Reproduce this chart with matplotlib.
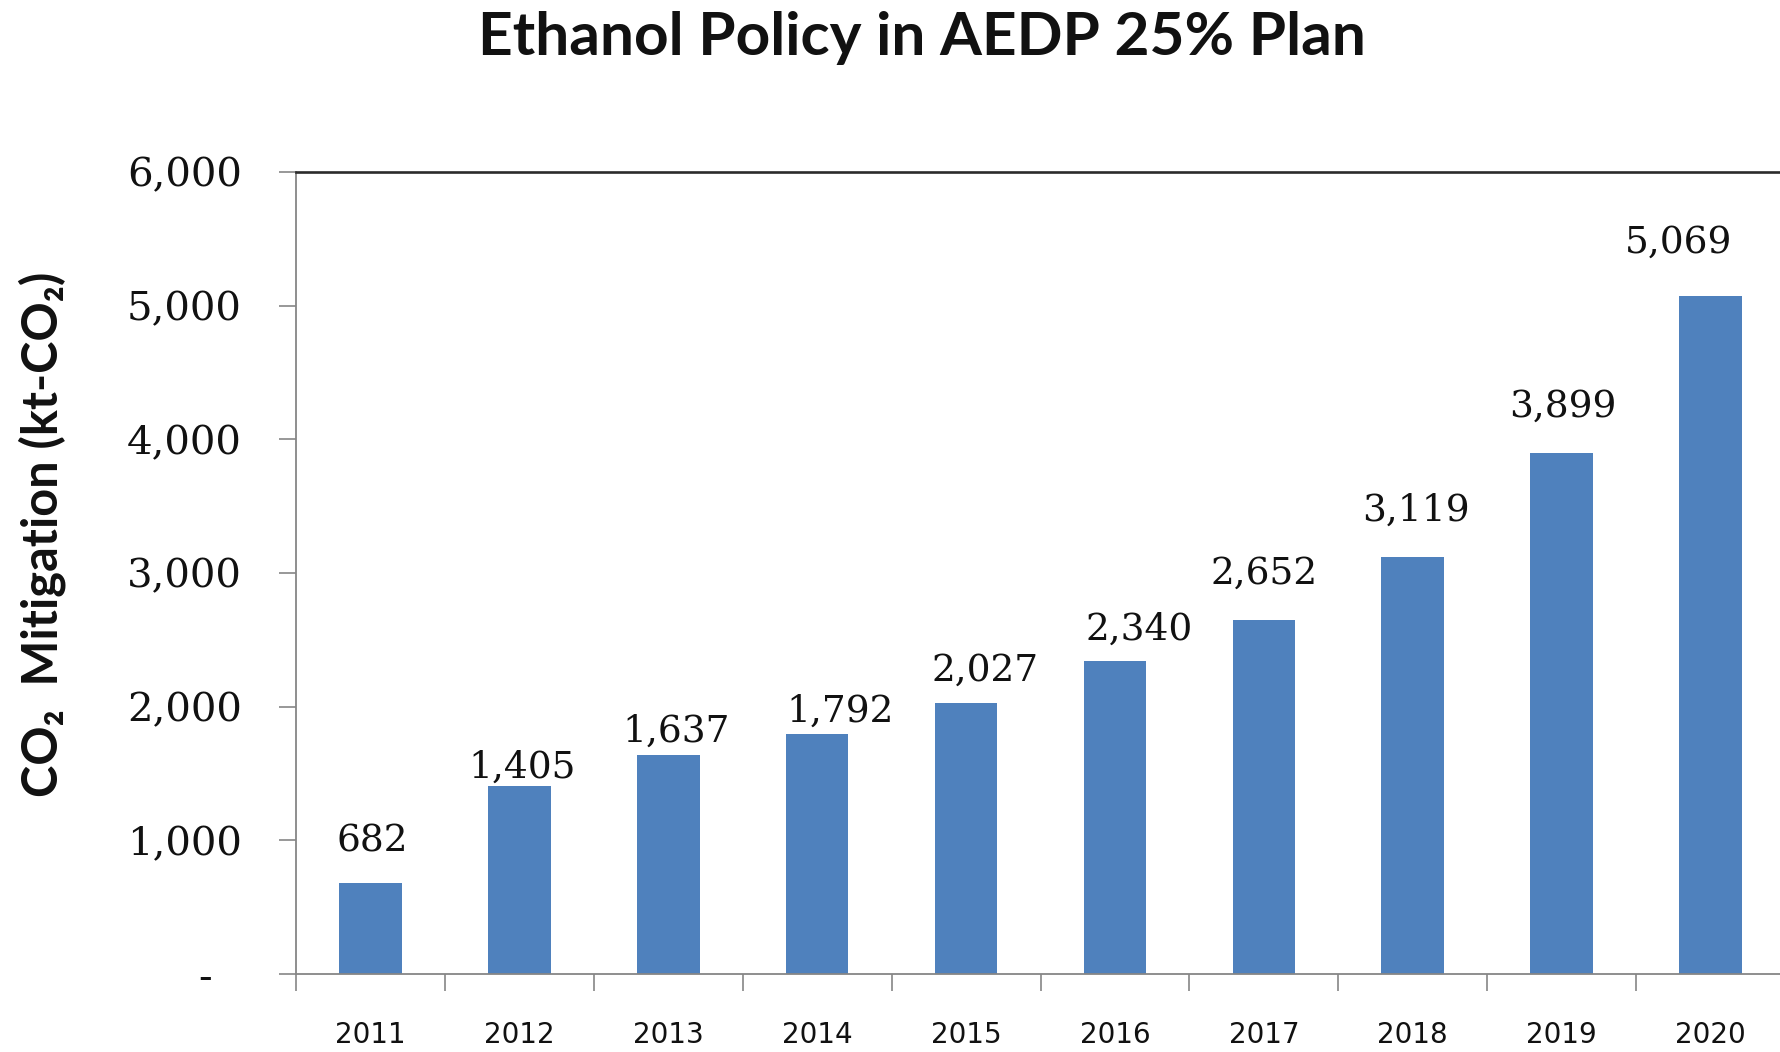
import matplotlib
matplotlib.use("Agg")
import matplotlib.pyplot as plt
from matplotlib.ticker import FixedLocator, FixedFormatter
from matplotlib.transforms import ScaledTranslation

# Data
years = ["2011", "2012", "2013", "2014", "2015", "2016", "2017", "2018", "2019", "2020"]
mitigation = [682, 1405, 1637, 1792, 2027, 2340, 2652, 3119, 3899, 5069]
y_ticks = [0, 1000, 2000, 3000, 4000, 5000, 6000]
y_tick_labels = ["-", "1,000", "2,000", "3,000", "4,000", "5,000", "6,000"]

# Hand-placed value-label offsets (pixels) relative to each bar top
label_dx_px = [2, 3, 8, 23, 19, 24, 0, 3, 1, -32]
label_dy_px = [31, 8, 13, 13, 22, 21, 36, 36, 36, 44]

W, H, DPI = 1780, 1052, 100
fig = plt.figure(figsize=(W / DPI, H / DPI), dpi=DPI)
fig.patch.set_facecolor("white")

left_px, right_px, top_px, bottom_px = 296, 1785, 172, 974
ax = fig.add_axes([left_px / W, 1 - bottom_px / H,
                   (right_px - left_px) / W, (bottom_px - top_px) / H])

x = list(range(len(years)))
ax.bar(x, mitigation, width=0.42, color="#4F81BD", zorder=2)

ax.set_xlim(-0.5, len(years) - 0.5)
ax.set_ylim(0, 6000)

# Spines
grey = "#868686"
for side in ("left", "bottom"):
    ax.spines[side].set_color(grey)
    ax.spines[side].set_linewidth(1.3)
for side in ("top", "right"):
    ax.spines[side].set_color("#2b2b2b")
    ax.spines[side].set_linewidth(1.9)

# Y axis ticks
ax.yaxis.set_major_locator(FixedLocator(y_ticks))
ax.yaxis.set_major_formatter(FixedFormatter(y_tick_labels))
ax.tick_params(axis="y", direction="out", length=12, width=1.2, color=grey,
               pad=27, labelsize=29)
for lab in ax.get_yticklabels():
    lab.set_fontfamily("DejaVu Serif")
    lab.set_color("#111111")
# zero label sits further left, as with accounting format
zero_lab = ax.get_yticklabels()[0]
zero_lab.set_transform(zero_lab.get_transform() +
                       ScaledTranslation(-0.30, 0, fig.dpi_scale_trans))

# X axis: labels at category centres, tick marks at category boundaries
ax.xaxis.set_major_locator(FixedLocator(x))
ax.xaxis.set_major_formatter(FixedFormatter(years))
ax.xaxis.set_minor_locator(FixedLocator([i - 0.5 for i in range(len(years) + 1)]))
ax.tick_params(axis="x", which="major", length=0, pad=34, labelsize=20)
ax.tick_params(axis="x", which="minor", direction="out", length=12, width=1.2, color=grey)
for lab in ax.get_xticklabels():
    lab.set_fontfamily("DejaVu Sans")
    lab.set_color("#111111")

# Value labels above bars
for xi, v, dx, dy in zip(x, mitigation, label_dx_px, label_dy_px):
    ax.annotate(f"{v:,}", xy=(xi, v), xytext=(dx, dy), textcoords="offset pixels",
                ha="center", va="baseline", fontsize=27, family="DejaVu Serif",
                color="#111111")

# Title and y-axis label
fig.text(922 / W, 1 - 38 / H, "Ethanol Policy in AEDP 25% Plan",
         ha="center", va="center", fontsize=43.5, fontweight="bold",
         family=["Lato", "DejaVu Sans"], color="#111111")
fig.text(42 / W, 1 - 534 / H, "CO\u2082  Mitigation (kt-CO\u2082)",
         rotation=90, ha="center", va="center", fontsize=35, fontweight="bold",
         family=["Lato", "DejaVu Sans"], color="#111111")

fig.savefig("out.png", dpi=DPI, facecolor="white")
